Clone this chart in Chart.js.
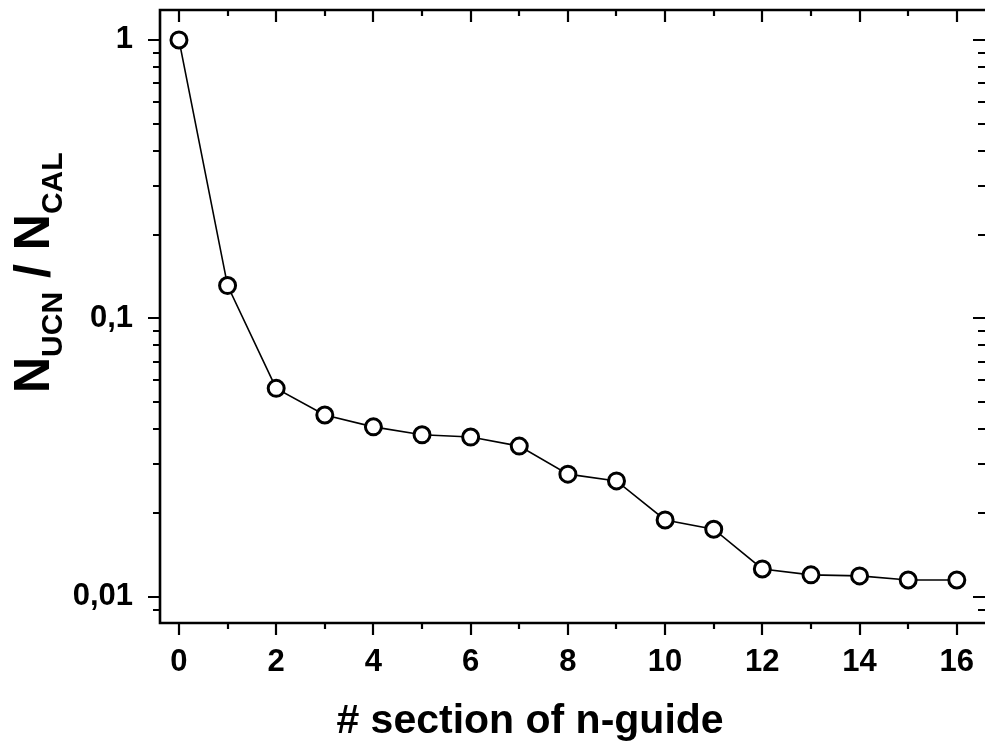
<!DOCTYPE html>
<html>
<head>
<meta charset="utf-8">
<script src="https://cdn.jsdelivr.net/npm/chart.js@4/dist/chart.umd.min.js"></script>
<style>
  html, body { margin: 0; padding: 0; background: #fff; overflow: hidden; }
  #chart { display: block; }
</style>
</head>
<body>
<canvas id="chart" width="985" height="753"></canvas>
<script>
const sections = [0, 1, 2, 3, 4, 5, 6, 7, 8, 9, 10, 11, 12, 13, 14, 15, 16];
const ratio = [1.0, 0.1312, 0.0561, 0.0450, 0.0408, 0.0382, 0.0375, 0.0348, 0.0276,
               0.0261, 0.0189, 0.0175, 0.0126, 0.0120, 0.0119, 0.0115, 0.0115];

const xMajorTicks = [0, 2, 4, 6, 8, 10, 12, 14, 16];
const xMinorTicks = [1, 3, 5, 7, 9, 11, 13, 15];
const yMajorTicks = [0.01, 0.1, 1];
const yTickLabels = ['0,01', '0,1', '1'];
const yMinorTicks = [0.009, 0.02, 0.03, 0.04, 0.05, 0.06, 0.07, 0.08, 0.09,
                     0.2, 0.3, 0.4, 0.5, 0.6, 0.7, 0.8, 0.9];

const xTitle = '# section of n-guide';
const FONT = "'Liberation Sans', Arial, sans-serif";

// no extra padding from the scales, chart area fixed by afterFit
function noPad(s) {
    s.paddingTop = 0;
    s.paddingBottom = 0;
    s.paddingLeft = 0;
    s.paddingRight = 0;
}

// frame, tick marks and axis titles drawn on top of chart
const framePlugin = {
    id: 'frame',
    afterDraw(chart) {
        const ctx = chart.ctx;
        const area = chart.chartArea;
        const xs = chart.scales.x;
        const ys = chart.scales.y;
        ctx.save();
        ctx.strokeStyle = '#000';
        ctx.lineWidth = 2.6;
        ctx.lineCap = 'butt';

        // left, top, bottom lines (right one sits outside the picture)
        ctx.beginPath();
        ctx.moveTo(area.left, area.top - 1.3);
        ctx.lineTo(area.left, area.bottom + 1.3);
        ctx.moveTo(area.left, area.top);
        ctx.lineTo(area.right, area.top);
        ctx.moveTo(area.left, area.bottom);
        ctx.lineTo(area.right, area.bottom);
        ctx.stroke();

        ctx.lineWidth = 2.2;
        ctx.beginPath();
        xMajorTicks.forEach(v => {
            const px = Math.round(xs.getPixelForValue(v));
            ctx.moveTo(px, area.bottom); ctx.lineTo(px, area.bottom + 12);
            ctx.moveTo(px, area.top); ctx.lineTo(px, area.top + 12);
        });
        xMinorTicks.forEach(v => {
            const px = Math.round(xs.getPixelForValue(v));
            ctx.moveTo(px, area.bottom); ctx.lineTo(px, area.bottom + 6);
            ctx.moveTo(px, area.top); ctx.lineTo(px, area.top + 6);
        });
        yMajorTicks.forEach(v => {
            const py = Math.round(ys.getPixelForValue(v));
            ctx.moveTo(area.left, py); ctx.lineTo(area.left - 12, py);
            ctx.moveTo(area.right, py); ctx.lineTo(area.right - 12, py);
        });
        yMinorTicks.forEach(v => {
            const py = Math.round(ys.getPixelForValue(v));
            ctx.moveTo(area.left, py); ctx.lineTo(area.left - 7, py);
            ctx.moveTo(area.right, py); ctx.lineTo(area.right - 7, py);
        });
        ctx.stroke();

        // x title
        ctx.fillStyle = '#000';
        ctx.font = 'bold 41px ' + FONT;
        ctx.textAlign = 'center';
        ctx.textBaseline = 'alphabetic';
        ctx.fillText(xTitle, 530, 733);

        // y title with subscripts, rotated
        ctx.translate(49, 393);
        ctx.rotate(-Math.PI / 2);
        ctx.textAlign = 'left';
        const parts = [
            ['N', false], ['UCN', true], [' / ', false], ['N', false], ['CAL', true]
        ];
        let pos = 0;
        parts.forEach(([txt, sub]) => {
            ctx.font = sub ? 'bold 30px ' + FONT : 'bold 50px ' + FONT;
            ctx.fillText(txt, pos, sub ? 13 : 0);
            pos += ctx.measureText(txt).width;
        });
        ctx.restore();
    }
};

const ctx = document.getElementById('chart').getContext('2d');
new Chart(ctx, {
    type: 'line',
    data: {
        datasets: [{
            data: sections.map((s, i) => ({ x: s, y: ratio[i] })),
            borderColor: '#000',
            borderWidth: 1.6,
            pointRadius: 8,
            pointBorderWidth: 3,
            pointBackgroundColor: '#fff',
            pointBorderColor: '#000',
            tension: 0
        }]
    },
    options: {
        responsive: false,
        animation: false,
        layout: { autoPadding: false, padding: { top: 10, left: 0, right: 0, bottom: 0 } },
        plugins: { legend: { display: false }, tooltip: { enabled: false } },
        scales: {
            x: {
                type: 'linear',
                min: -0.39,
                max: 16.58,
                afterBuildTicks: s => { s.ticks = xMajorTicks.map(v => ({ value: v })); },
                afterFit: s => { s.height = 130; noPad(s); },
                grid: { display: true, drawOnChartArea: false, tickLength: 12, color: 'rgba(0,0,0,0)' },
                border: { display: false },
                ticks: {
                    color: '#000',
                    padding: 9,
                    maxRotation: 0,
                    font: { family: FONT, size: 31, weight: 'bold' }
                }
            },
            y: {
                type: 'logarithmic',
                min: 0.00806,
                max: 1.281,
                afterBuildTicks: s => { s.ticks = yMajorTicks.map(v => ({ value: v, major: true })); },
                afterFit: s => { s.width = 160; noPad(s); },
                grid: { display: true, drawOnChartArea: false, tickLength: 12, color: 'rgba(0,0,0,0)' },
                border: { display: false },
                ticks: {
                    color: '#000',
                    padding: 15,
                    font: { family: FONT, size: 31, weight: 'bold' },
                    callback: (v, i) => yTickLabels[i]
                }
            }
        }
    },
    plugins: [framePlugin]
});
</script>
</body>
</html>
